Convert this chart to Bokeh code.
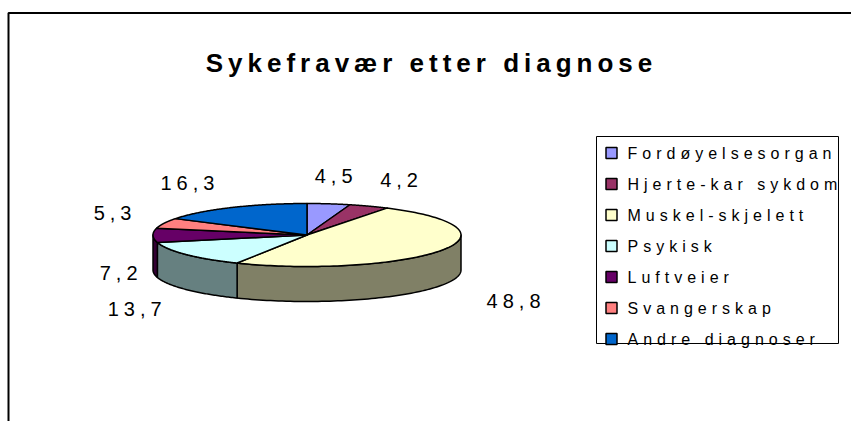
import numpy as np
from bokeh.plotting import figure
from bokeh.models import Range1d
from bokeh.core.properties import value
from bokeh.embed import file_html
from bokeh.resources import INLINE

# ---- data ----
categories = ["Fordøyelsesorgan", "Hjerte-kar sykdom", "Muskel-skjelett", "Psykisk",
              "Luftveier", "Svangerskap", "Andre diagnoser"]
values = [4.5, 4.2, 48.8, 13.7, 7.2, 5.3, 16.3]
value_labels = ["4,5", "4,2", "48,8", "13,7", "7,2", "5,3", "16,3"]
title_text = "Sykefravær etter diagnose"
top_colors = ["#9999FF", "#993366", "#FFFFCC", "#CCFFFF", "#660066", "#FF8080", "#0066CC"]
side_colors = ["#4D4D80", "#4D1A33", "#808066", "#668080", "#330033", "#804040", "#003366"]

FONT = "Liberation Sans"
LS = 5  # letter spacing in px (applied via CSS, inherited by svg text)

# ---- layout ----
W, H = 851, 421
CX, CY, RX, RY, DEPTH = 306.5, 234.5, 154.0, 31.5, 35.0

p = figure(width=W, height=H, x_range=Range1d(0, W), y_range=Range1d(H, 0),
           output_backend="svg", toolbar_location=None, min_border=0,
           x_axis_location=None, y_axis_location=None,
           styles={"letter-spacing": f"{LS}px"})
p.grid.visible = False
p.outline_line_color = None
p.background_fill_color = "white"
p.border_fill_color = "white"

# chart frame (top + left edges visible)
p.line(x=[8, 8, W], y=[H, 12.5, 12.5], line_color="black", line_width=2)

# ---- pie geometry from values ----
total = float(sum(values))
cum = np.concatenate([[0.0], np.cumsum(values)]) / total
phi_start = 90.0 - 360.0 * cum[:-1]
phi_end = 90.0 - 360.0 * cum[1:]

def ex(phi):
    return CX + RX * np.cos(np.radians(phi))

def ey(phi):
    return CY - RY * np.sin(np.radians(phi))

# sides (front half only)
sx, sy, sc = [], [], []
for i in range(len(values)):
    a0, b0 = phi_end[i], phi_start[i]
    for k in (-1, 0, 1):
        lo, hi = -180.0 + 360 * k, 0.0 + 360 * k
        a, b = max(a0, lo), min(b0, hi)
        if b - a > 1e-6:
            ph = np.linspace(b, a, 80)
            xs = list(ex(ph)) + list(ex(ph[::-1]))
            ys = list(ey(ph)) + list(ey(ph[::-1]) + DEPTH)
            sx.append(xs); sy.append(ys); sc.append(side_colors[i])
p.patches(sx, sy, fill_color=sc, line_color="black", line_width=1.5, line_join="round")

# tops
tx, ty = [], []
for i in range(len(values)):
    ph = np.linspace(phi_start[i], phi_end[i], 120)
    tx.append([CX] + list(ex(ph)))
    ty.append([CY] + list(ey(ph)))
p.patches(tx, ty, fill_color=top_colors, line_color="black", line_width=1.5, line_join="round")

# data labels (alignment corrected for the css letter spacing)
mid = np.radians((phi_start + phi_end) / 2.0)
groups = {"left": ([], [], []), "right": ([], [], []), "center": ([], [], [])}
for i in range(len(values)):
    c, s = np.cos(mid[i]), np.sin(mid[i])
    n = len(value_labels[i])
    y = CY - 60 * s + (DEPTH + 2 if s < 0 else 0)
    if c > 0.3:
        al = "left"
        x = CX + (RX + 25) * c + 40 * c ** 4
    elif c < -0.3:
        al = "right"
        x = CX + (RX + 35) * c - (n - 1) * LS + (20 * (1 + s) ** 2 if s < 0 else 0)
    else:
        al = "center"
        x = CX + (RX + 35) * c - (n - 1) * LS / 2
    groups[al][0].append(x); groups[al][1].append(y); groups[al][2].append(value_labels[i])
for al, (xs, ys, ts) in groups.items():
    if xs:
        p.text(x=xs, y=ys, text=ts, text_align=al, text_baseline="middle",
               text_font=value(FONT), text_font_size="20px", text_color="black")

# title
p.text(x=[428.5 - (len(title_text) - 1) * LS / 2], y=[62], text=[title_text],
       text_align="center", text_baseline="alphabetic",
       text_font=value(FONT), text_font_size="26px", text_font_style="bold", text_color="black")

# legend (manual)
LX0, LX1, LY0, LY1 = 596, 838, 136, 343
p.rect(x=[(LX0 + LX1) / 2], y=[(LY0 + LY1) / 2], width=LX1 - LX0, height=LY1 - LY0,
       fill_color="white", line_color="black", line_width=1)
ly = [152.5 + 31 * i for i in range(len(categories))]
p.rect(x=[611] * len(categories), y=ly, width=11, height=11, fill_color=top_colors,
       line_color="black", line_width=1.5)
p.text(x=[627] * len(categories), y=ly, text=categories, text_align="left", text_baseline="middle",
       text_font=value(FONT), text_font_size="16px", text_color="black")

open("out.html", "w").write(file_html(p, INLINE))
